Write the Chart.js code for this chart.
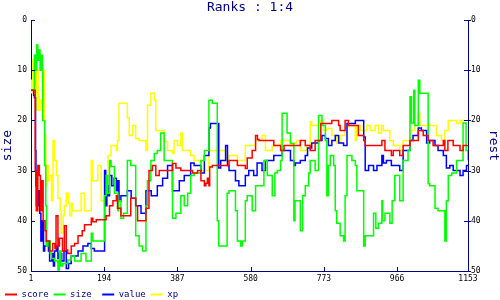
<!DOCTYPE html>
<html>
<head>
<meta charset="utf-8">
<script src="https://cdn.jsdelivr.net/npm/chart.js@4.4.1/dist/chart.umd.min.js"></script>
<style>
  html, body { margin: 0; padding: 0; background: #fff; }
  #wrap { width: 500px; height: 300px; }
</style>
</head>
<body>
<div id="wrap"><canvas id="rankChart"></canvas></div>
<script>
// -----------------------------------------
// data: [step start, rank]
// -----------------------------------------
const xTicks = [1, 194, 387, 580, 773, 966, 1153];
const seriesNames = ["score", "size", "value", "xp"];
const seriesColors = ["#ff0000", "#00ff00", "#0000ff", "#ffff00"];

const score = [
  [1,14],[12,30],[15,38],[19,29],[23,31],[26,38],[30,32],[33,40],[38,42],[41,44],[50,46],[58,44.5],[64,45.5],
  [67,39],[72,45],[76,43.5],[84,46],[89,41],[94,45.8],[98,46.5],[107,45],[116,44.5],[125,43],[136,42],[142,40.8],
  [160,39.5],[164,40.2],[173,39.8],[199,39],[208,37],[217,36],[226,35],[229,37.5],[238,39],[264,35.5],[277,37],
  [282,40],[304,37.5],[312,30],[321,29],[330,31],[339,30],[374,28.6],[383,29.5],[396,30],[427,30.5],[440,30],
  [449,32],[458,33],[462,32.5],[466,31.5],[470,33],[472,29.3],[479,29],[523,28],[545,29],[566,29.6],[571,27.5],
  [584,26],[593,23],[598,23.8],[602,24],[641,25],[659,26],[668,25],[711,24],[724,25],[737,26],[750,24],[765,20.6],
  [794,20],[812,21],[816,22],[829,20],[838,21],[864,23],[878,24],[882,25],[926,24],[934,26],[951,27],[956,26],
  [973,27],[982,25],[1000,24],[1022,22],[1035,23],[1048,24],[1061,25],[1088,24],[1092,26],[1100,24],[1114,25],
  [1132,26],[1140,25],[1153,25]
];

const size = [
  [1,14],[10,7],[13,10],[16,5],[19,8],[22,6],[25,10],[28,7],[31,9],[32,20],[37,29],[40,37],[42,45],[46,44],
  [52,46.5],[55,47.5],[63,48],[72,49.8],[76,46],[80,49],[85,48.5],[98,47.8],[107,47],[116,48],[133,46.5],[146,48],
  [160,42.5],[164,44],[195,35],[199,31],[203,34.5],[208,28],[212,29.2],[221,34.5],[230,38],[232,36],[238,39.5],
  [245,38.5],[255,28],[264,29],[277,43],[286,45],[295,46],[304,37],[308,32],[317,28],[326,26.6],[334,26],[343,22.5],
  [352,28],[374,39.5],[383,38.5],[396,35],[405,37],[414,34.5],[422,31],[431,30.5],[449,28],[458,26],[470,16],
  [479,16.6],[492,40],[496,45],[518,34.5],[523,34],[540,38],[545,44],[554,45],[558,44],[566,36],[571,35],[584,38],
  [593,33],[615,28],[624,31],[637,35],[644,30.5],[650,30],[659,28],[663,18.6],[676,22.5],[685,24.6],[694,40],
  [697,36],[711,42],[717,35],[724,33],[733,30.5],[737,28],[750,30],[759,19],[768,21],[777,24],[781,35],[785,29],
  [790,27],[799,29],[803,38],[807,40.5],[816,43],[825,44],[829,35],[834,27],[847,28],[856,29],[860,34],[878,45],
  [882,43],[904,38.5],[910,41.5],[917,40.5],[926,36],[928,40],[934,38.5],[947,40.5],[953,36],[960,31],[973,36],
  [982,28],[995,26],[1000,15.3],[1004,20.5],[1010,14],[1013,21],[1022,12],[1026,14.6],[1048,32.6],[1052,33],
  [1066,37.5],[1074,38],[1092,44],[1096,36],[1101,31],[1110,30.5],[1123,28],[1140,20.5],[1148,26],[1153,28]
];

const value = [
  [1,14],[8,15],[10,15.5],[13,26],[14,33],[15,37],[20,34],[24,38.5],[27,44],[30,40],[34,46],[37,45],[42,44],
  [47,46],[50,48],[56,46.5],[60,49],[63,46],[68,45],[72,47.5],[76,46.5],[82,48],[88,46],[94,49.5],[100,48.5],
  [107,47],[125,46],[138,45],[151,44.5],[160,45.5],[168,46],[195,30],[198,37],[201,33],[205,35],[208,31],[214,33],
  [220,31.5],[226,34],[229,32],[233,36],[238,35],[255,34],[265,35.5],[277,37],[291,38.5],[304,34],[318,35],
  [334,33],[348,31.5],[361,29],[374,34],[392,32],[405,31],[422,28.5],[431,29],[449,30.5],[458,27],[470,21.5],
  [474,20.6],[496,29.5],[501,28],[514,25],[519,29],[523,30],[540,32],[549,33],[566,31],[575,30],[588,31],
  [597,28.5],[610,30],[619,28],[641,27],[663,26],[685,28],[694,29],[698,28.5],[711,28],[724,27],[730,25.5],
  [741,24.5],[759,24],[768,23],[777,23.6],[785,25],[794,24],[803,23],[812,24.5],[825,25],[834,20.6],[856,20],
  [878,23.3],[882,30],[891,29],[904,30],[913,29],[926,27],[930,28.5],[938,28],[951,29],[973,30],[982,26],
  [1000,24],[1008,23],[1022,21.5],[1030,22],[1044,24.5],[1052,24],[1066,25],[1074,26],[1088,27],[1096,29.5],
  [1105,29],[1114,30],[1132,31],[1140,30],[1149,29],[1153,29]
];

const xp = [
  [1,12],[2,14.5],[6,8],[10,13],[13,7],[16,18],[19,10],[20,15],[23,18],[25,16],[29,16.6],[33,10],[37,23],[40,33],
  [42,29],[47,32],[50,31],[55,36],[59,24],[63,28],[68,31],[72,35.5],[78,38],[81,42.5],[86,39],[89,37],[94,34.5],
  [99,36.5],[103,39],[108,36.5],[111,38],[133,34.5],[142,38],[160,28],[164,32],[177,29],[186,36],[195,31],
  [204,27],[212,25],[226,26],[229,24],[233,16.6],[255,19.5],[260,23],[269,21],[277,23.6],[286,24],[304,26],
  [308,17],[317,14.6],[326,16],[330,22],[352,24.2],[361,26],[374,26.6],[378,24],[387,25],[396,22.5],[400,26],
  [422,27],[431,28],[449,30],[470,26],[514,28],[523,27],[545,28],[566,25],[593,24],[610,23],[619,26],[637,25],
  [659,24],[685,25],[693,24.5],[702,24],[711,26],[728,25],[737,20.3],[741,21],[763,20],[772,22],[781,21.6],
  [794,23],[807,24.5],[816,23],[829,21.3],[838,21],[856,24],[860,21],[869,22],[886,21],[895,22],[908,21],
  [917,22.5],[925,21],[930,22],[947,24],[956,25],[973,26],[982,24],[1000,22],[1013,21],[1022,18.6],[1026,21],
  [1070,23],[1083,24],[1092,22],[1101,20],[1123,20.6],[1132,20],[1153,20]
];

const seriesData = [score, size, value, xp];

// -----------------------------------------
// look
// -----------------------------------------
const NAVY = "#000080";
const MONO = "'DejaVu Sans Mono', 'Liberation Mono', monospace";

// short tick marks pointing into the plot
const innerTicks = {
  id: "innerTicks",
  afterDraw(chart) {
    const c = chart.ctx;
    const area = chart.chartArea;
    c.save();
    c.strokeStyle = NAVY;
    c.lineWidth = 1;
    c.beginPath();
    chart.scales.x.ticks.forEach(t => {
      const px = Math.round(chart.scales.x.getPixelForValue(t.value)) + 0.5;
      c.moveTo(px, area.bottom);
      c.lineTo(px, area.bottom - 4);
    });
    chart.scales.y.ticks.forEach(t => {
      const py = Math.round(chart.scales.y.getPixelForValue(t.value)) + 0.5;
      c.moveTo(area.left, py);
      c.lineTo(area.left + 4, py);
    });
    chart.scales.y2.ticks.forEach(t => {
      const py = Math.round(chart.scales.y2.getPixelForValue(t.value)) + 0.5;
      c.moveTo(area.right - 4, py);
      c.lineTo(area.right + 3, py);
    });
    c.stroke();
    c.restore();
  }
};

const rankAxis = (pos, label) => ({
  type: "linear",
  position: pos,
  reverse: true,
  min: 0,
  max: 50,
  grid: { display: false, drawTicks: false },
  border: { display: true, color: NAVY, width: 1 },
  ticks: { stepSize: 10, color: "#000", padding: pos === "left" ? 4 : 3, font: { family: MONO, size: 8 } },
  title: {
    display: true, text: label, color: NAVY,
    padding: { top: pos === "left" ? 1.5 : 0, bottom: 0 },
    font: { family: MONO, size: 13, lineHeight: 1 }
  },
  afterFit: s => { s.width = pos === "left" ? 31 : 32; }
});

let ctx = document.getElementById("rankChart").getContext("2d");

let rankChart = new Chart(ctx, {
  type: "line",
  data: {
    datasets: seriesNames.map((name, i) => ({
      label: name,
      data: seriesData[i].map(p => ({ x: p[0], y: p[1] })),
      borderColor: seriesColors[i],
      backgroundColor: seriesColors[i],
      borderWidth: 1.5,
      stepped: true,
      pointRadius: 0,
      fill: false,
      yAxisID: "y"
    }))
  },
  options: {
    responsive: true,
    maintainAspectRatio: false,
    animation: false,
    layout: { padding: 0 },
    plugins: {
      title: {
        display: true,
        text: "Ranks : 1:4",
        color: NAVY,
        font: { family: MONO, size: 13, weight: "normal" },
        padding: { top: 0, bottom: 4.4 }
      },
      legend: {
        position: "bottom",
        align: "start",
        maxHeight: 15,
        labels: {
          color: NAVY,
          font: { family: MONO, size: 9 },
          usePointStyle: true,
          pointStyle: "line",
          pointStyleWidth: 12,
          boxHeight: 9,
          padding: 5,
          generateLabels: chart => Chart.defaults.plugins.legend.labels.generateLabels(chart).map(item => {
            item.text = item.text.padEnd(5, " ");
            item.lineWidth = 2;
            return item;
          })
        }
      },
      tooltip: { enabled: false }
    },
    scales: {
      x: {
        type: "linear",
        min: 1,
        max: 1153,
        grid: { display: false, drawTicks: false },
        border: { display: true, color: NAVY, width: 1 },
        afterBuildTicks: s => { s.ticks = xTicks.map(v => ({ value: v })); },
        ticks: {
          color: "#000", padding: 3, maxRotation: 0, autoSkip: false,
          font: { family: MONO, size: 8 },
          callback: v => String(v)
        },
        afterFit: s => { s.height = 14; }
      },
      y: rankAxis("left", "size"),
      y2: rankAxis("right", "rest")
    }
  },
  plugins: [innerTicks]
});
</script>
</body>
</html>
